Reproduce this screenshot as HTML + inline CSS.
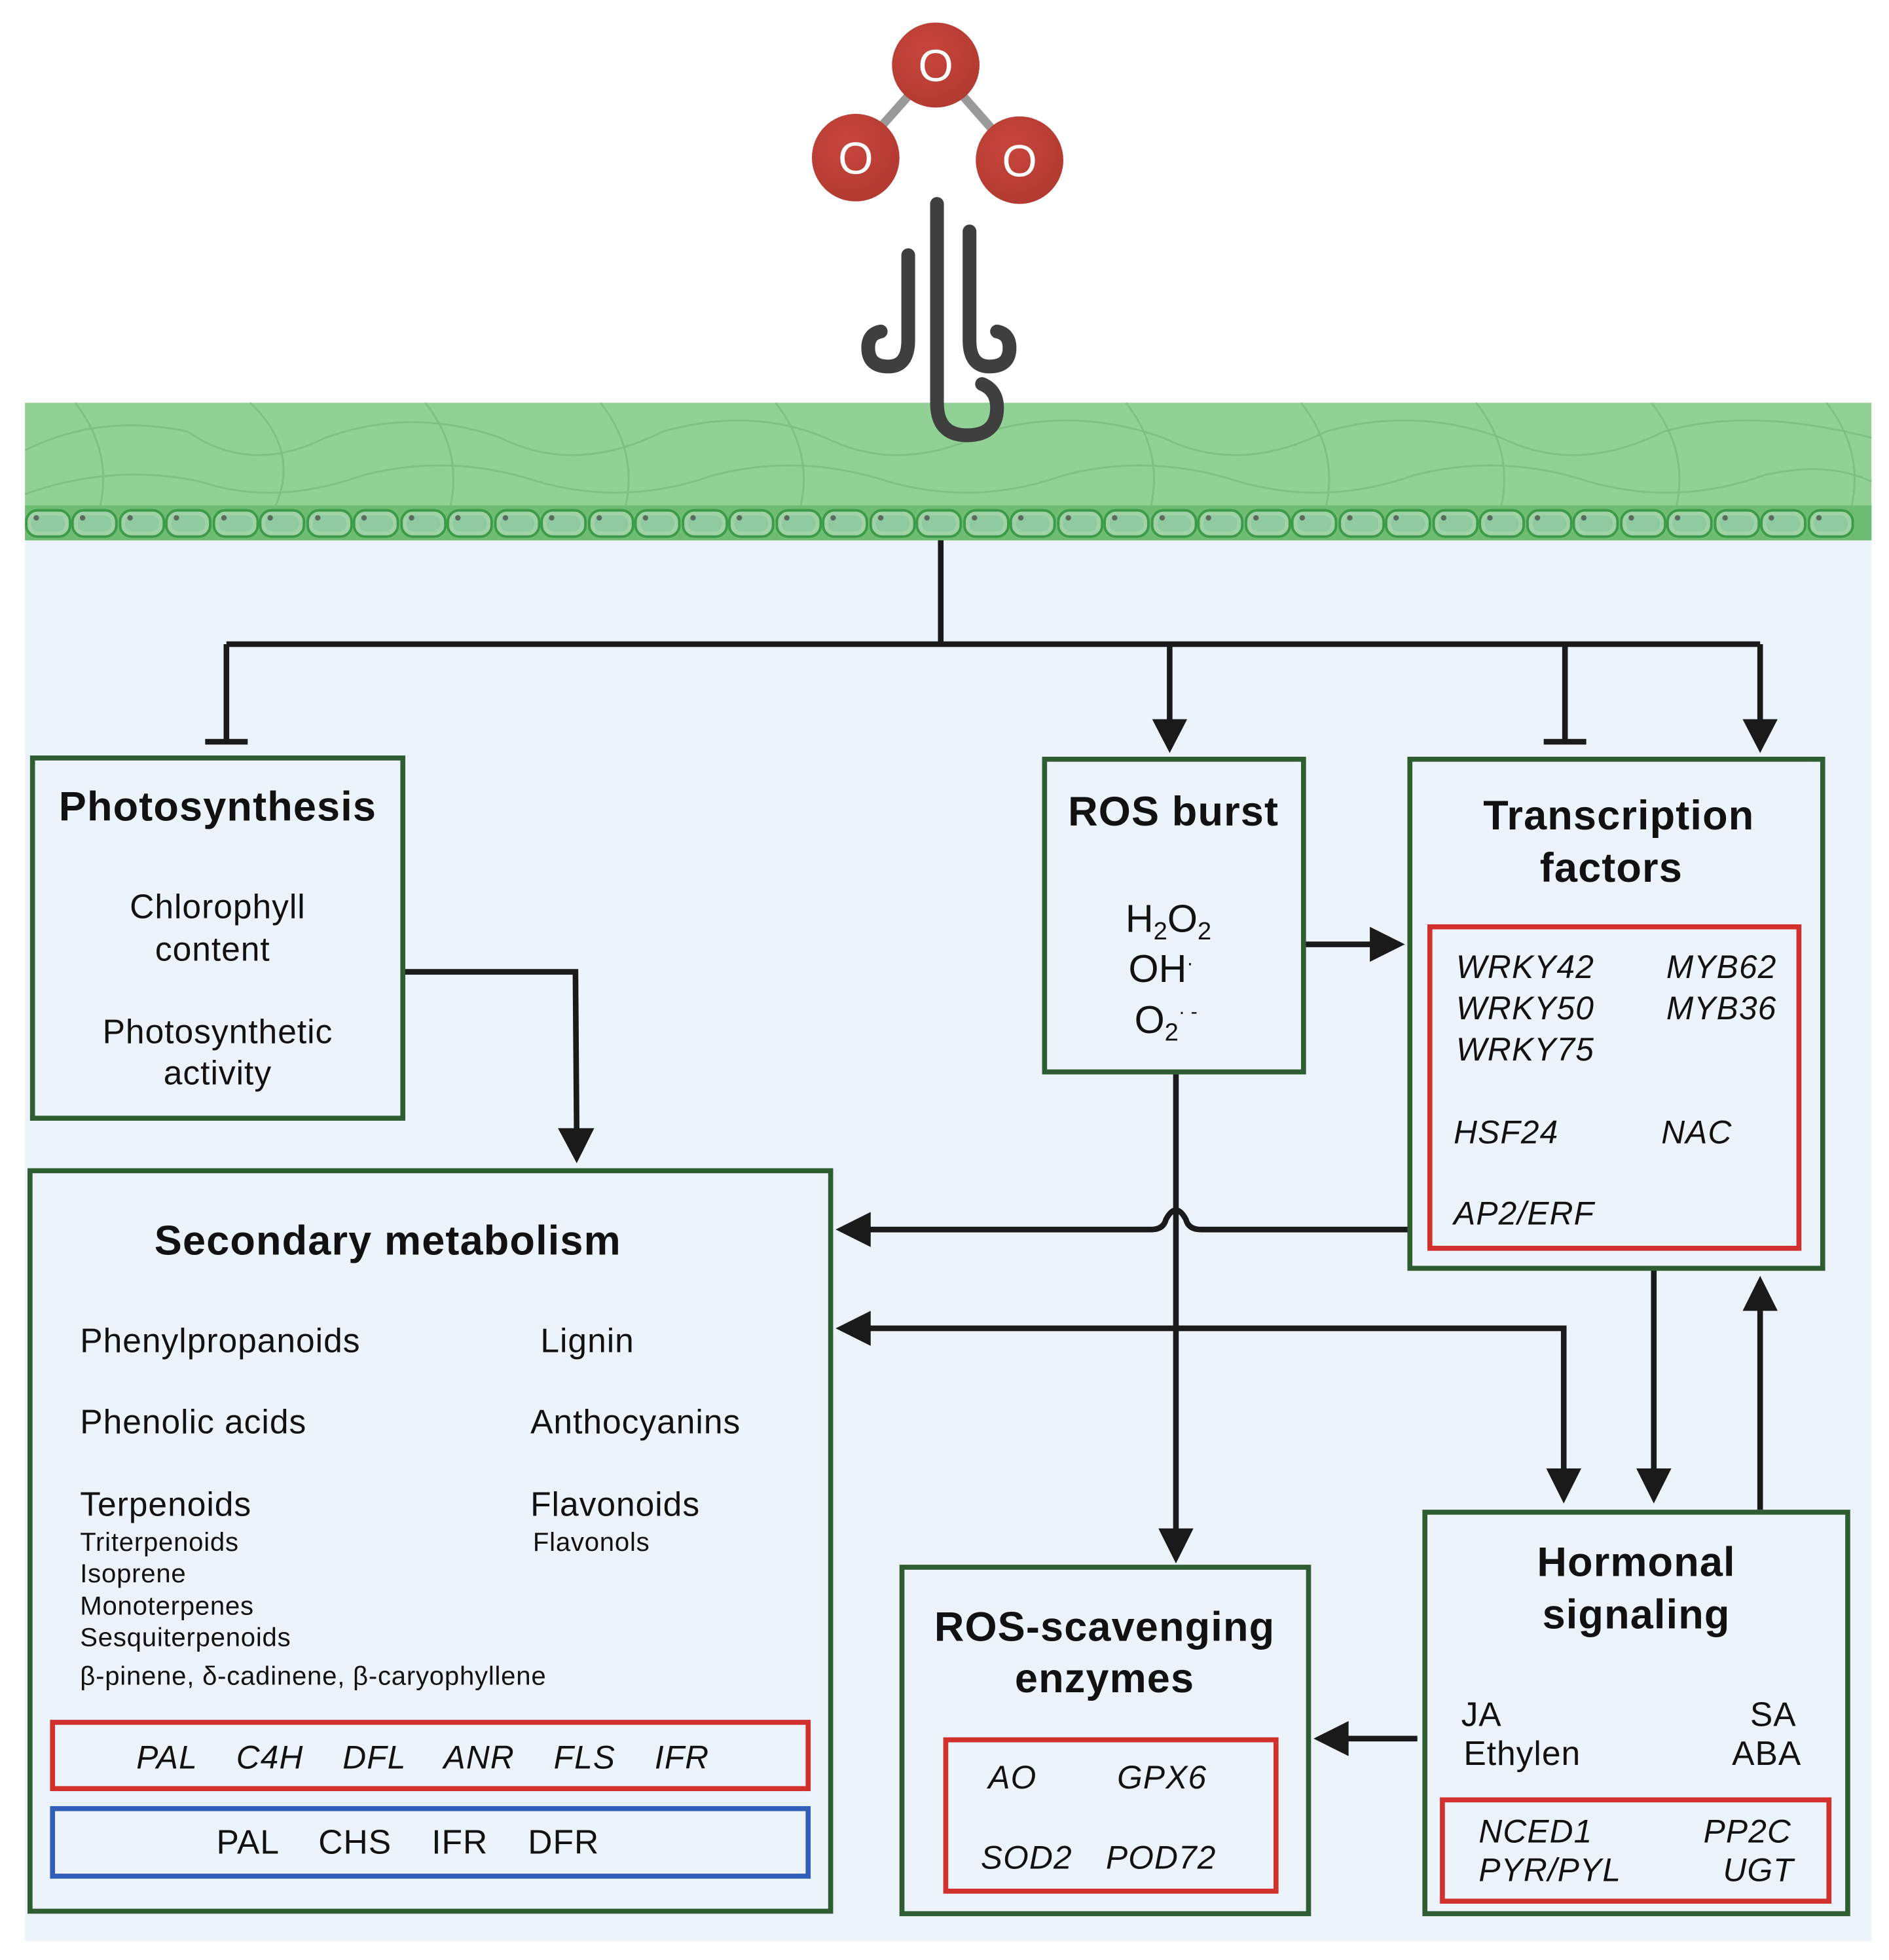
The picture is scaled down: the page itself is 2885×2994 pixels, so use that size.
<!DOCTYPE html>
<html><head><meta charset="utf-8">
<style>
html,body{margin:0;padding:0;background:#fff;}
svg{display:block;}
text{font-family:"Liberation Sans",Arial,sans-serif;fill:#111;}
.t{font-weight:bold;font-size:33px;text-anchor:middle;letter-spacing:0.6px;}
.b{font-size:27px;letter-spacing:0.5px;}
.i{font-size:26px;font-style:italic;letter-spacing:0.6px;}
.s{font-size:21px;letter-spacing:0.4px;}
</style></head><body>
<svg width="2885" height="2994" viewBox="0 0 1510 1567" xmlns="http://www.w3.org/2000/svg">
<defs>
<radialGradient id="og" cx="0.4" cy="0.35" r="0.7"><stop offset="0" stop-color="#c6453c"/><stop offset="1" stop-color="#b23a30"/></radialGradient>
<g id="cell"><rect x="0" y="0" width="35" height="21" rx="9" fill="#9fd3a6" stroke="#3d9a48" stroke-width="2"/><rect x="4" y="4" width="27" height="13" rx="6" fill="#8fcaa0"/><circle cx="8" cy="6" r="2.2" fill="#5c6b5c"/></g>
</defs>
<rect width="1510" height="1567" fill="#fff"/>
<rect x="20" y="432" width="1476" height="1120" fill="#edf3fb"/>
<rect x="20" y="322" width="1476" height="110" fill="#92d196"/>
<g stroke="#7cbf80" stroke-width="1.5" fill="none" opacity="0.9">
<path d="M20 360 Q80 330 150 345 Q200 380 260 350 Q330 325 400 350 Q460 380 530 345 Q600 325 660 350 Q720 380 790 345 Q860 325 930 350 Q990 380 1060 345 Q1130 325 1200 350 Q1260 380 1330 345 Q1400 325 1496 350"/>
<path d="M20 395 Q90 370 160 385 Q220 405 290 380 Q360 362 430 385 Q500 405 570 380 Q640 362 710 385 Q780 405 850 380 Q920 362 990 385 Q1060 405 1130 380 Q1200 362 1270 385 Q1340 405 1410 380 Q1460 368 1496 385"/>
<path d="M60 322 Q90 360 80 405 M200 322 Q240 360 220 405 M340 322 Q370 360 360 405 M480 322 Q510 360 500 405 M620 322 Q650 360 640 405 M900 322 Q930 360 920 405 M1040 322 Q1070 360 1060 405 M1180 322 Q1210 360 1200 405 M1320 322 Q1350 360 1340 405 M1460 322 Q1490 360 1480 405"/>
</g>
<rect x="20" y="404" width="1476" height="28" fill="#6dbd73"/>
<g transform="translate(0,408)">
<use href="#cell" x="21"/><use href="#cell" x="58"/><use href="#cell" x="96"/><use href="#cell" x="133"/><use href="#cell" x="171"/><use href="#cell" x="208"/><use href="#cell" x="246"/><use href="#cell" x="283"/><use href="#cell" x="321"/><use href="#cell" x="358"/><use href="#cell" x="396"/><use href="#cell" x="433"/><use href="#cell" x="471"/><use href="#cell" x="508"/><use href="#cell" x="546"/><use href="#cell" x="583"/><use href="#cell" x="621"/><use href="#cell" x="658"/><use href="#cell" x="696"/><use href="#cell" x="733"/><use href="#cell" x="771"/><use href="#cell" x="808"/><use href="#cell" x="846"/><use href="#cell" x="883"/><use href="#cell" x="921"/><use href="#cell" x="958"/><use href="#cell" x="996"/><use href="#cell" x="1033"/><use href="#cell" x="1071"/><use href="#cell" x="1108"/><use href="#cell" x="1146"/><use href="#cell" x="1183"/><use href="#cell" x="1221"/><use href="#cell" x="1258"/><use href="#cell" x="1296"/><use href="#cell" x="1333"/><use href="#cell" x="1371"/><use href="#cell" x="1408"/><use href="#cell" x="1446"/>
</g>
<!-- ozone -->
<line x1="748" y1="52" x2="684" y2="124" stroke="#9a9a9a" stroke-width="7"/>
<line x1="748" y1="52" x2="814" y2="127" stroke="#9a9a9a" stroke-width="7"/>
<ellipse cx="748" cy="52" rx="35" ry="34" fill="url(#og)"/>
<ellipse cx="684" cy="126" rx="35" ry="35" fill="url(#og)"/>
<ellipse cx="815" cy="128" rx="35" ry="35" fill="url(#og)"/>
<g font-size="36" text-anchor="middle"><text x="748" y="65" style="fill:#fff">O</text><text x="684" y="139" style="fill:#fff">O</text><text x="815" y="141" style="fill:#fff">O</text></g>
<!-- hooks -->
<g stroke="#3f3f3f" stroke-width="11" fill="none" stroke-linecap="round">
<path d="M749 163 V322 Q749 348 773 348 Q797 348 797 326 Q797 312 785 307"/>
<path d="M726 204 V272 Q726 293 710 293 Q694 293 694 278 Q694 267 704 265"/>
<path d="M775 185 V272 Q775 293 791 293 Q807 293 807 278 Q807 267 797 265"/>
</g>
<!-- connectors -->
<g stroke="#1a1a1a" stroke-width="4.5" fill="none">
<path d="M752 432 V515 M181 515 H1407 M181 515 V593 M164 593 H198 M935 515 V580 M1251 515 V593 M1234 593 H1268 M1407 515 V580"/>
<path d="M322 777 H460 L461 908"/>
<path d="M1042 755 H1100"/>
<path d="M1127 983 H960 Q950 983 948 975 Q940 960 932 975 Q930 983 920 983 H690"/>
<path d="M940 857 V1228"/>
<path d="M690 1062 H1250 V1180"/>
<path d="M1322 1014 V1180"/>
<path d="M1407 1207 V1042"/>
<path d="M1133 1390 H1073"/>
</g>
<g fill="#1a1a1a">
<path d="M921 575 L949 575 L935 602 Z"/>
<path d="M1393 575 L1421 575 L1407 602 Z"/>
<path d="M446 902 L475 902 L461 930 Z"/>
<path d="M1095 741 L1095 769 L1123 755 Z"/>
<path d="M696 969 L696 997 L668 983 Z"/>
<path d="M926 1222 L954 1222 L940 1250 Z"/>
<path d="M696 1048 L696 1076 L668 1062 Z"/>
<path d="M1236 1174 L1264 1174 L1250 1202 Z"/>
<path d="M1308 1174 L1336 1174 L1322 1202 Z"/>
<path d="M1393 1048 L1421 1048 L1407 1020 Z"/>
<path d="M1078 1376 L1078 1404 L1050 1390 Z"/>
</g>
<g fill="none" stroke="#2f5d32" stroke-width="4">
<rect x="26" y="606" width="296" height="288"/>
<rect x="835" y="607" width="207" height="250"/>
<rect x="1127" y="607" width="330" height="407"/>
<rect x="24" y="936" width="640" height="592"/>
<rect x="721" y="1253" width="325" height="277"/>
<rect x="1139" y="1209" width="338" height="321"/>
</g>
<g fill="none" stroke="#d2302c" stroke-width="4">
<rect x="1143" y="741" width="295" height="257"/>
<rect x="42" y="1377" width="604" height="53"/>
<rect x="756" y="1391" width="264" height="121"/>
<rect x="1153" y="1439" width="309" height="81"/>
</g>
<rect x="42" y="1446" width="604" height="54" fill="none" stroke="#2f5fb8" stroke-width="4"/>
<!-- text -->
<text class="t" x="174" y="656">Photosynthesis</text>
<text class="b" x="174" y="734" text-anchor="middle">Chlorophyll</text>
<text class="b" x="170" y="768" text-anchor="middle">content</text>
<text class="b" x="174" y="834" text-anchor="middle">Photosynthetic</text>
<text class="b" x="174" y="867" text-anchor="middle">activity</text>

<text class="t" x="938" y="660">ROS burst</text>
<text x="934" y="745" text-anchor="middle" font-size="31">H<tspan font-size="20" dy="6">2</tspan><tspan dy="-6">O</tspan><tspan font-size="20" dy="6">2</tspan></text>
<text x="928" y="785" text-anchor="middle" font-size="31">OH<tspan font-size="16" dy="-10">·</tspan></text>
<text x="932" y="826" text-anchor="middle" font-size="31">O<tspan font-size="20" dy="6">2</tspan><tspan font-size="16" dy="-18">· -</tspan></text>

<text class="t" x="1294" y="663">Transcription</text>
<text class="t" x="1288" y="705">factors</text>
<text class="i" x="1164" y="782">WRKY42</text>
<text class="i" x="1164" y="815">WRKY50</text>
<text class="i" x="1164" y="848">WRKY75</text>
<text class="i" x="1332" y="782">MYB62</text>
<text class="i" x="1332" y="815">MYB36</text>
<text class="i" x="1162" y="914">HSF24</text>
<text class="i" x="1328" y="914">NAC</text>
<text class="i" x="1162" y="979">AP2/ERF</text>

<text class="t" x="310" y="1003">Secondary metabolism</text>
<text class="b" x="64" y="1081">Phenylpropanoids</text>
<text class="b" x="432" y="1081">Lignin</text>
<text class="b" x="64" y="1146">Phenolic acids</text>
<text class="b" x="424" y="1146">Anthocyanins</text>
<text class="b" x="64" y="1212">Terpenoids</text>
<text class="b" x="424" y="1212">Flavonoids</text>
<text class="s" x="64" y="1240">Triterpenoids</text>
<text class="s" x="426" y="1240">Flavonols</text>
<text class="s" x="64" y="1265">Isoprene</text>
<text class="s" x="64" y="1291">Monoterpenes</text>
<text class="s" x="64" y="1316">Sesquiterpenoids</text>
<text class="s" x="64" y="1347">β-pinene, δ-cadinene, β-caryophyllene</text>
<text class="i" x="338" y="1414" text-anchor="middle" xml:space="preserve">PAL    C4H    DFL    ANR    FLS    IFR</text>
<text class="b" x="326" y="1482" text-anchor="middle" xml:space="preserve">PAL    CHS    IFR    DFR</text>

<text class="t" x="883" y="1312">ROS-scavenging</text>
<text class="t" x="883" y="1353">enzymes</text>
<text class="i" x="790" y="1430">AO</text>
<text class="i" x="893" y="1430">GPX6</text>
<text class="i" x="784" y="1494">SOD2</text>
<text class="i" x="884" y="1494">POD72</text>

<text class="t" x="1308" y="1260">Hormonal</text>
<text class="t" x="1308" y="1302">signaling</text>
<text class="b" x="1168" y="1380">JA</text>
<text class="b" x="1170" y="1411">Ethylen</text>
<text class="b" x="1436" y="1380" text-anchor="end">SA</text>
<text class="b" x="1440" y="1411" text-anchor="end">ABA</text>
<text class="i" x="1182" y="1473">NCED1</text>
<text class="i" x="1182" y="1504">PYR/PYL</text>
<text class="i" x="1432" y="1473" text-anchor="end">PP2C</text>
<text class="i" x="1434" y="1504" text-anchor="end">UGT</text>
</svg>
</body></html>
